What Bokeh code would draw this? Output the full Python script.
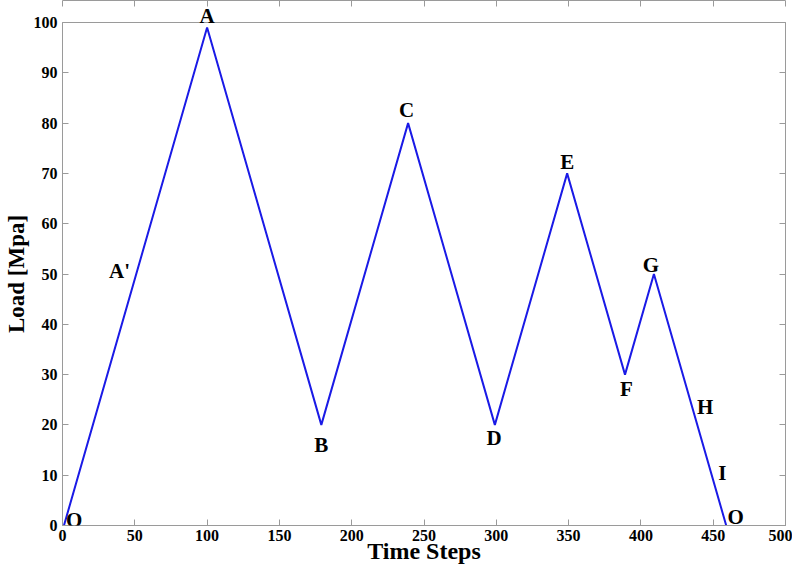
from bokeh.plotting import figure
from bokeh.models import LinearAxis, Range1d, FixedTicker, Label, CustomJSTickFormatter
from bokeh.embed import file_html
from bokeh.resources import INLINE

# Load history (time step, load in MPa)
time_steps = [1, 100, 179, 239, 299, 349, 389, 409, 459]
load = [0, 99, 20, 80, 20, 70, 30, 50, 0]

# Point annotations (the peak "A" sits above the frame, drawn on a top axis)
label_text = ["O", "A'", "B", "C", "D", "E", "F", "G", "H", "I", "O"]
label_x = [8, 39.5, 179, 238, 298.5, 349, 390, 407, 444.5, 456.3, 465.6]
label_y = [1.1, 50.6, 16.0, 82.7, 17.4, 72.3, 27.2, 51.8, 23.6, 10.5, 1.7]
peak_label = "A"
peak_x = 100

x_ticks = list(range(0, 501, 50))
y_ticks = list(range(0, 101, 10))

FONT = "Liberation Serif"
AXIS_COL = "#9a9a9a"

p = figure(frame_width=723, frame_height=503, output_backend="svg", toolbar_location=None,
           x_range=Range1d(0, 500), y_range=Range1d(0, 100),
           min_border_left=50, min_border_right=7, min_border_top=12,
           min_border_bottom=30)
p.grid.visible = False
p.outline_line_color = AXIS_COL
p.background_fill_color = "white"
p.border_fill_color = "white"

p.line(time_steps, load, line_color="#1a1ae6", line_width=2)

for t, lx, ly in zip(label_text, label_x, label_y):
    p.add_layout(Label(x=lx, y=ly, text=t, text_align="center",
                       text_baseline="middle", text_font=FONT,
                       text_font_style="bold", text_font_size="21px",
                       text_color="black"))

def style_axis(ax, show_labels=True):
    ax.axis_line_color = AXIS_COL
    ax.major_tick_line_color = AXIS_COL
    ax.major_tick_in = 6
    ax.major_tick_out = 0
    ax.minor_tick_line_color = None
    ax.major_label_text_font = FONT
    ax.major_label_text_font_style = "bold"
    ax.major_label_text_font_size = "16px"
    ax.major_label_text_color = "black"
    ax.axis_label_text_font = FONT
    ax.axis_label_text_font_style = "bold"
    ax.axis_label_text_color = "black"
    if not show_labels:
        ax.formatter = CustomJSTickFormatter(code="return ''")
        ax.major_label_standoff = 0

p.xaxis.ticker = FixedTicker(ticks=x_ticks)
p.yaxis.ticker = FixedTicker(ticks=y_ticks)
style_axis(p.xaxis[0])
style_axis(p.yaxis[0])
p.xaxis.axis_label = "Time Steps"
p.yaxis.axis_label = "Load [Mpa]"
p.xaxis.axis_label_text_font_size = "24px"
p.yaxis.axis_label_text_font_size = "23px"
p.xaxis.axis_label_standoff = -6
p.yaxis.axis_label_standoff = 2
p.xaxis.major_label_standoff = 4
p.yaxis.major_label_standoff = 5

# Peak label "A" on its own top axis so it may extend above the frame
peak_axis = LinearAxis(ticker=FixedTicker(ticks=[peak_x]),
                       major_label_overrides={peak_x: peak_label})
peak_axis.axis_line_color = None
peak_axis.major_tick_line_color = None
peak_axis.major_tick_in = 0
peak_axis.major_tick_out = 0
peak_axis.minor_tick_line_color = None
peak_axis.major_label_standoff = -5
peak_axis.major_label_text_font = FONT
peak_axis.major_label_text_font_style = "bold"
peak_axis.major_label_text_font_size = "21px"
peak_axis.major_label_text_color = "black"
p.add_layout(peak_axis, "above")

right = LinearAxis(ticker=FixedTicker(ticks=y_ticks))
style_axis(right, show_labels=False)
p.add_layout(right, "right")

top = LinearAxis(ticker=FixedTicker(ticks=x_ticks))
style_axis(top, show_labels=False)
p.add_layout(top, "above")

open("out.html", "w").write(file_html(p, INLINE))
